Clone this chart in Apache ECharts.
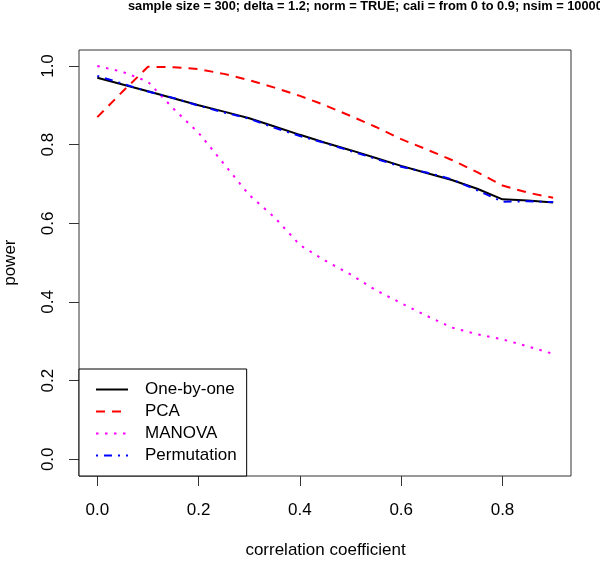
<!DOCTYPE html>
<html>
<head>
<meta charset="utf-8">
<script src="https://cdn.jsdelivr.net/npm/echarts@6/dist/echarts.min.js"></script>
<style>
html,body{margin:0;padding:0;background:#fff;}
#chart{width:600px;height:561px;}
</style>
</head>
<body>
<div id="chart"></div>
<script>
// correlation coefficient
var xVals = [0, 0.05, 0.1, 0.15, 0.2, 0.25, 0.3, 0.35, 0.4, 0.45, 0.5, 0.55, 0.6, 0.65, 0.7, 0.75, 0.8, 0.85, 0.9];
// power per method
var oneByOne = [0.970, 0.953, 0.936, 0.918, 0.900, 0.884, 0.867, 0.846, 0.825, 0.805, 0.786, 0.766, 0.746, 0.728, 0.710, 0.688, 0.661, 0.658, 0.653];
var pca = [0.870, 0.935, 0.998, 0.997, 0.992, 0.980, 0.964, 0.945, 0.924, 0.900, 0.873, 0.845, 0.814, 0.788, 0.761, 0.730, 0.696, 0.678, 0.665];
var manova = [1.000, 0.985, 0.960, 0.892, 0.830, 0.751, 0.672, 0.615, 0.545, 0.505, 0.470, 0.430, 0.397, 0.365, 0.335, 0.318, 0.305, 0.287, 0.268];
var perm = [0.975, 0.955, 0.935, 0.919, 0.899, 0.882, 0.866, 0.843, 0.822, 0.804, 0.784, 0.764, 0.744, 0.729, 0.712, 0.684, 0.655, 0.656, 0.654];

function pairs(ys) {
  return xVals.map(function (x, i) { return [x, ys[i]]; });
}

var font = '"Liberation Sans", Arial, sans-serif';
var chart = echarts.init(document.getElementById('chart'));

// grid 0: data area (0..1 on both axes), grid 1: the plot box with R's 4% padding
var option = {
  animation: false,
  backgroundColor: '#fff',
  title: {
    text: 'sample size = 300; delta = 1.2; norm = TRUE; cali = from 0 to 0.9; nsim = 10000',
    left: 128,
    top: 0,
    padding: 0,
    textStyle: {
      fontFamily: font,
      fontWeight: 'bold',
      fontSize: 12.8,
      color: '#000'
    }
  },
  grid: [
    { left: 97.3, top: 66, right: -3.8, bottom: 101.7, outerBoundsMode: 'none', containLabel: false },
    {
      left: 79, top: 50, right: 29, bottom: 85, outerBoundsMode: 'none', containLabel: false,
      show: true, borderColor: '#333', borderWidth: 1
    }
  ],
  legend: {
    orient: 'vertical',
    left: 79,
    top: 369,
    padding: [12, 10, 12, 16],
    itemGap: 5,
    itemWidth: 32,
    itemHeight: 17,
    borderColor: '#000',
    borderWidth: 1,
    backgroundColor: '#fff',
    selectedMode: false,
    itemStyle: { opacity: 0 },
    textStyle: {
      fontFamily: font,
      fontSize: 17,
      lineHeight: 17,
      color: '#000',
      padding: [0, 0, 0, 12]
    },
    data: ['One-by-one', 'PCA', 'MANOVA', 'Permutation']
  },
  xAxis: [
    {
      type: 'value',
      gridIndex: 0,
      min: 0,
      max: 1,
      interval: 0.2,
      offset: 16.7,
      name: 'correlation coefficient',
      nameLocation: 'middle',
      nameGap: 66,
      nameTextStyle: { fontFamily: font, fontSize: 17, color: '#000', padding: [0, 50, 0, 0] },
      splitLine: { show: false },
      axisLine: { show: false, onZero: false },
      axisTick: { show: true, inside: false, length: 10, lineStyle: { color: '#333', width: 1 } },
      axisLabel: {
        showMaxLabel: false,
        margin: 26,
        fontFamily: font,
        fontSize: 17,
        color: '#000',
        formatter: function (v) { return v.toFixed(1); }
      }
    },
    { type: 'value', gridIndex: 1, show: false, min: 0, max: 1 }
  ],
  yAxis: [
    {
      type: 'value',
      gridIndex: 0,
      min: 0,
      max: 1,
      interval: 0.2,
      offset: 18.3,
      name: 'power',
      nameLocation: 'middle',
      nameRotate: 90,
      nameGap: 60,
      nameTextStyle: { fontFamily: font, fontSize: 17, color: '#000' },
      splitLine: { show: false },
      axisLine: { show: false, onZero: false },
      axisTick: { show: true, inside: false, length: 10, lineStyle: { color: '#333', width: 1 } },
      axisLabel: {
        rotate: 90,
        margin: 22,
        fontFamily: font,
        fontSize: 17,
        color: '#000',
        formatter: function (v) { return v.toFixed(1); }
      }
    },
    { type: 'value', gridIndex: 1, show: false, min: 0, max: 1 }
  ],
  series: [
    {
      name: 'One-by-one', type: 'line', data: pairs(oneByOne), symbol: 'none', clip: false,
      lineStyle: { color: '#000', width: 2, type: 'solid' }, itemStyle: { color: '#000' }
    },
    {
      name: 'PCA', type: 'line', data: pairs(pca), symbol: 'none', clip: false,
      lineStyle: { color: '#ff0000', width: 2, type: [9, 7] }, itemStyle: { color: '#ff0000' }
    },
    {
      name: 'MANOVA', type: 'line', data: pairs(manova), symbol: 'none', clip: false,
      lineStyle: { color: '#ff00ff', width: 2, type: [2.5, 6.5] }, itemStyle: { color: '#ff00ff' }
    },
    {
      name: 'Permutation', type: 'line', data: pairs(perm), symbol: 'none', clip: false,
      lineStyle: { color: '#0000ff', width: 2, type: [2, 6, 8, 6] }, itemStyle: { color: '#0000ff' }
    }
  ]
};

chart.setOption(option);
</script>
</body>
</html>
